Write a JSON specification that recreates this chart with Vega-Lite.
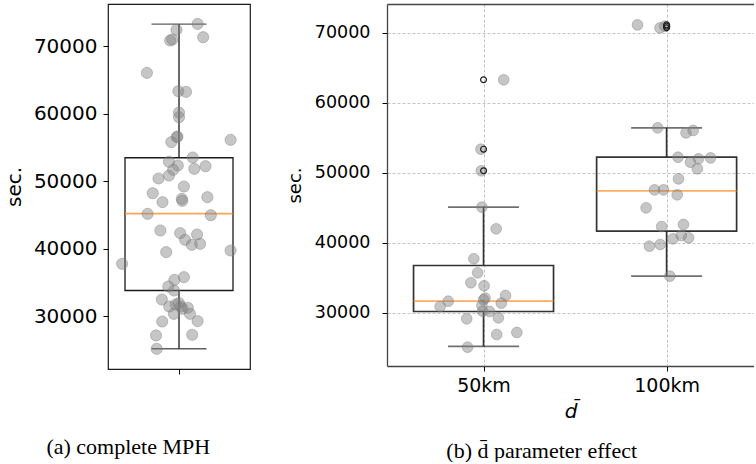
{
  "$schema": "https://vega.github.io/schema/vega-lite/v6.json",
  "background": "white",
  "padding": {"left": 3, "top": 3, "right": 0, "bottom": 0},
  "config": {
    "font": "DejaVu Sans",
    "view": {"stroke": null},
    "concat": {"spacing": 35},
    "axis": {"labelColor": "black", "titleColor": "black", "tickColor": "black", "titleFontWeight": "normal", "grid": false}
  },
  "datasets": {
    "complete": [
      {"x": 1.141, "sec": 73300}, {"x": 0.981, "sec": 72420}, {"x": 0.933, "sec": 70840}, {"x": 0.949, "sec": 70990},
      {"x": 1.183, "sec": 71330}, {"x": 0.757, "sec": 66050}, {"x": 0.995, "sec": 63330}, {"x": 1.053, "sec": 63230},
      {"x": 1.0, "sec": 60170}, {"x": 1.0, "sec": 59480}, {"x": 0.988, "sec": 56620}, {"x": 0.984, "sec": 56520},
      {"x": 0.942, "sec": 55780}, {"x": 1.391, "sec": 56120}, {"x": 1.104, "sec": 53510}, {"x": 0.924, "sec": 52870},
      {"x": 0.991, "sec": 52320}, {"x": 1.201, "sec": 52220}, {"x": 1.116, "sec": 51830}, {"x": 0.956, "sec": 51680},
      {"x": 0.924, "sec": 50840}, {"x": 0.845, "sec": 50400}, {"x": 1.037, "sec": 49210}, {"x": 0.801, "sec": 48220},
      {"x": 1.215, "sec": 47630}, {"x": 1.021, "sec": 47380}, {"x": 1.025, "sec": 47090}, {"x": 0.875, "sec": 46890},
      {"x": 0.762, "sec": 45160}, {"x": 1.241, "sec": 44960}, {"x": 0.859, "sec": 42690}, {"x": 1.009, "sec": 42300},
      {"x": 1.137, "sec": 42100}, {"x": 1.046, "sec": 41310}, {"x": 1.097, "sec": 40570}, {"x": 1.16, "sec": 40720},
      {"x": 0.903, "sec": 39480}, {"x": 1.391, "sec": 39730}, {"x": 0.569, "sec": 37750}, {"x": 1.037, "sec": 35780},
      {"x": 0.965, "sec": 35380}, {"x": 0.919, "sec": 34400}, {"x": 0.963, "sec": 33800}, {"x": 0.87, "sec": 32470},
      {"x": 0.926, "sec": 31430}, {"x": 0.975, "sec": 31730}, {"x": 1.0, "sec": 31930}, {"x": 1.014, "sec": 31430},
      {"x": 0.961, "sec": 30350}, {"x": 1.067, "sec": 31240}, {"x": 1.083, "sec": 30350}, {"x": 1.025, "sec": 31090},
      {"x": 1.141, "sec": 29260}, {"x": 0.873, "sec": 29210}, {"x": 0.826, "sec": 27140}, {"x": 1.1, "sec": 27240},
      {"x": 0.831, "sec": 25160}
    ],
    "completeBox": [
      {"pos": 1, "whislo": 25170, "q1": 33800, "med": 45200, "q3": 53470, "whishi": 73260}
    ],
    "dbar": [
      {"d": "50km", "x": 1.110, "sec": 63290}, {"d": "50km", "x": 0.986, "sec": 53380}, {"d": "50km", "x": 0.988, "sec": 50290},
      {"d": "50km", "x": 0.991, "sec": 45100}, {"d": "50km", "x": 1.069, "sec": 42000}, {"d": "50km", "x": 0.947, "sec": 37720},
      {"d": "50km", "x": 0.968, "sec": 35720}, {"d": "50km", "x": 0.931, "sec": 34290}, {"d": "50km", "x": 1.003, "sec": 33860},
      {"d": "50km", "x": 1.120, "sec": 32480}, {"d": "50km", "x": 1.000, "sec": 31860}, {"d": "50km", "x": 1.008, "sec": 32100},
      {"d": "50km", "x": 0.807, "sec": 31660}, {"d": "50km", "x": 1.097, "sec": 31380}, {"d": "50km", "x": 0.763, "sec": 30900},
      {"d": "50km", "x": 0.991, "sec": 31050}, {"d": "50km", "x": 0.995, "sec": 30230}, {"d": "50km", "x": 1.033, "sec": 30190},
      {"d": "50km", "x": 1.081, "sec": 29290}, {"d": "50km", "x": 0.908, "sec": 29140}, {"d": "50km", "x": 1.072, "sec": 26900},
      {"d": "50km", "x": 1.182, "sec": 27190}, {"d": "50km", "x": 0.913, "sec": 25090},
      {"d": "100km", "x": 1.841, "sec": 71140}, {"d": "100km", "x": 1.964, "sec": 70710}, {"d": "100km", "x": 1.990, "sec": 70950},
      {"d": "100km", "x": 1.951, "sec": 56430}, {"d": "100km", "x": 2.106, "sec": 55710}, {"d": "100km", "x": 2.145, "sec": 56050},
      {"d": "100km", "x": 2.062, "sec": 52230}, {"d": "100km", "x": 2.130, "sec": 51520}, {"d": "100km", "x": 2.174, "sec": 52000},
      {"d": "100km", "x": 2.168, "sec": 50570}, {"d": "100km", "x": 2.240, "sec": 52140}, {"d": "100km", "x": 2.065, "sec": 49140},
      {"d": "100km", "x": 1.934, "sec": 47570}, {"d": "100km", "x": 1.983, "sec": 47570}, {"d": "100km", "x": 2.058, "sec": 46860},
      {"d": "100km", "x": 1.888, "sec": 45000}, {"d": "100km", "x": 1.973, "sec": 42330}, {"d": "100km", "x": 2.092, "sec": 42620},
      {"d": "100km", "x": 2.080, "sec": 41050}, {"d": "100km", "x": 2.035, "sec": 40570}, {"d": "100km", "x": 2.120, "sec": 40710},
      {"d": "100km", "x": 1.906, "sec": 39520}, {"d": "100km", "x": 1.965, "sec": 39760}, {"d": "100km", "x": 2.018, "sec": 35240}
    ],
    "dbarBox": [
      {"d": "50km", "pos": 1, "whislo": 25190, "q1": 30190, "med": 31660, "q3": 36760, "whishi": 45100},
      {"d": "100km", "pos": 2, "whislo": 35240, "q1": 41670, "med": 47430, "q3": 52240, "whishi": 56430}
    ],
    "dbarOut": [
      {"d": "50km", "pos": 1, "sec": 63290}, {"d": "50km", "pos": 1, "sec": 53380}, {"d": "50km", "pos": 1, "sec": 50290},
      {"d": "100km", "pos": 2, "sec": 71140}, {"d": "100km", "pos": 2, "sec": 70950}, {"d": "100km", "pos": 2, "sec": 70710}
    ]
  },
  "hconcat": [
    {
      "width": 142,
      "height": 365,
      "view": {"stroke": "#1a1a1a", "strokeWidth": 1.2},
      "title": {"text": "(a) complete MPH", "orient": "bottom", "anchor": "start", "frame": "bounds", "dx": 42, "offset": 62, "font": "Liberation Serif", "fontSize": 22, "fontWeight": "normal", "color": "black"},
      "layer": [
        {
          "data": {"name": "completeBox"},
          "mark": {"type": "bar", "orient": "vertical", "width": 108, "filled": false, "stroke": "#1a1a1a", "strokeWidth": 1.3},
          "encoding": {
            "x": {"field": "pos", "type": "quantitative", "scale": {"domain": [0.5, 1.5], "nice": false, "zero": false},
                  "axis": {"values": [1], "labels": false, "title": null, "domain": false, "ticks": true, "tickSize": 5, "tickWidth": 1}},
            "y": {"field": "q1", "type": "quantitative", "scale": {"domain": [22170, 76250], "nice": false, "zero": false},
                  "axis": {"values": [30000, 40000, 50000, 60000, 70000], "format": "d", "title": "sec.", "titleFontSize": 20, "titlePadding": 9,
                           "labelFontSize": 20, "labelPadding": 6, "tickSize": 5, "domain": false}},
            "y2": {"field": "q3"}
          }
        },
        {
          "data": {"name": "completeBox"},
          "mark": {"type": "rule", "color": "#1a1a1a", "strokeWidth": 1.3},
          "encoding": {"x": {"field": "pos", "type": "quantitative"}, "y": {"field": "whislo", "type": "quantitative"}, "y2": {"field": "q1"}}
        },
        {
          "data": {"name": "completeBox"},
          "mark": {"type": "rule", "color": "#1a1a1a", "strokeWidth": 1.3},
          "encoding": {"x": {"field": "pos", "type": "quantitative"}, "y": {"field": "q3", "type": "quantitative"}, "y2": {"field": "whishi"}}
        },
        {
          "data": {"name": "completeBox"},
          "mark": {"type": "tick", "orient": "horizontal", "size": 55, "thickness": 1.3, "color": "#1a1a1a"},
          "encoding": {"x": {"field": "pos", "type": "quantitative"}, "y": {"field": "whislo", "type": "quantitative"}}
        },
        {
          "data": {"name": "completeBox"},
          "mark": {"type": "tick", "orient": "horizontal", "size": 55, "thickness": 1.3, "color": "#1a1a1a"},
          "encoding": {"x": {"field": "pos", "type": "quantitative"}, "y": {"field": "whishi", "type": "quantitative"}}
        },
        {
          "data": {"name": "completeBox"},
          "mark": {"type": "tick", "orient": "horizontal", "size": 108, "thickness": 1.7, "color": "#ff7f0e"},
          "encoding": {"x": {"field": "pos", "type": "quantitative"}, "y": {"field": "med", "type": "quantitative"}}
        },
        {
          "data": {"name": "complete"},
          "mark": {"type": "point", "shape": "circle", "filled": true, "size": 125, "fill": "#808080", "stroke": "#808080", "strokeWidth": 1, "fillOpacity": 0.45, "strokeOpacity": 0.45, "opacity": 1},
          "encoding": {"x": {"field": "x", "type": "quantitative"}, "y": {"field": "sec", "type": "quantitative"}}
        }
      ]
    },
    {
      "width": 367,
      "height": 362,
      "title": {"text": "(b) d\u0304 parameter effect", "orient": "bottom", "anchor": "start", "frame": "bounds", "dx": 160, "offset": 20, "font": "Liberation Serif", "fontSize": 22, "fontWeight": "normal", "color": "black"},
      "resolve": {"axis": {"x": "independent"}},
      "layer": [
        {
          "data": {"name": "dbarBox"},
          "mark": {"type": "bar", "orient": "vertical", "width": 140, "filled": false, "stroke": "#333333", "strokeWidth": 1.7},
          "encoding": {
            "x": {"field": "pos", "type": "quantitative", "scale": {"domain": [0.5, 2.45], "nice": false, "zero": false},
                  "axis": {"orient": "bottom", "values": [1, 2], "labelExpr": "datum.value == 1 ? '50km' : '100km'", "title": "d\u0304",
                           "titleFontStyle": "italic", "titleFontSize": 20, "titlePadding": 6, "labelFontSize": 19, "labelPadding": 5,
                           "tickSize": 5, "domain": true, "domainColor": "#444", "domainWidth": 1.3,
                           "grid": true, "gridColor": "#bdbdbd", "gridDash": [3, 2], "gridWidth": 0.9}},
            "y": {"field": "q1", "type": "quantitative", "scale": {"domain": [22400, 74120], "nice": false, "zero": false},
                  "axis": {"values": [30000, 40000, 50000, 60000, 70000], "format": "d", "title": "sec.", "titleFontSize": 18, "titlePadding": 10,
                           "labelFontSize": 17.5, "labelPadding": 12, "tickSize": 5, "domain": true, "domainColor": "#444", "domainWidth": 1.3,
                           "grid": true, "gridColor": "#bdbdbd", "gridDash": [3, 2], "gridWidth": 0.9}},
            "y2": {"field": "q3"}
          }
        },
        {
          "data": {"name": "dbarBox"},
          "mark": {"type": "rule", "color": "#333333", "strokeWidth": 1.7},
          "encoding": {"x": {"field": "pos", "type": "quantitative", "axis": null}, "y": {"field": "whislo", "type": "quantitative"}, "y2": {"field": "q1"}}
        },
        {
          "data": {"name": "dbarBox"},
          "mark": {"type": "rule", "color": "#333333", "strokeWidth": 1.7},
          "encoding": {"x": {"field": "pos", "type": "quantitative", "axis": null}, "y": {"field": "q3", "type": "quantitative"}, "y2": {"field": "whishi"}}
        },
        {
          "data": {"name": "dbarBox"},
          "mark": {"type": "tick", "orient": "horizontal", "size": 71, "thickness": 1.7, "color": "#333333"},
          "encoding": {"x": {"field": "pos", "type": "quantitative", "axis": null}, "y": {"field": "whislo", "type": "quantitative"}}
        },
        {
          "data": {"name": "dbarBox"},
          "mark": {"type": "tick", "orient": "horizontal", "size": 71, "thickness": 1.7, "color": "#333333"},
          "encoding": {"x": {"field": "pos", "type": "quantitative", "axis": null}, "y": {"field": "whishi", "type": "quantitative"}}
        },
        {
          "data": {"name": "dbarBox"},
          "mark": {"type": "tick", "orient": "horizontal", "size": 140, "thickness": 1.8, "color": "#ff8a1f"},
          "encoding": {"x": {"field": "pos", "type": "quantitative", "axis": null}, "y": {"field": "med", "type": "quantitative"}}
        },
        {
          "data": {"name": "dbar"},
          "mark": {"type": "point", "shape": "circle", "filled": true, "size": 115, "fill": "#808080", "stroke": "#808080", "strokeWidth": 1, "fillOpacity": 0.45, "strokeOpacity": 0.45, "opacity": 1},
          "encoding": {"x": {"field": "x", "type": "quantitative", "axis": null}, "y": {"field": "sec", "type": "quantitative"}}
        },
        {
          "data": {"name": "dbarOut"},
          "mark": {"type": "point", "shape": "circle", "filled": false, "size": 34, "stroke": "#1a1a1a", "strokeWidth": 1.2, "opacity": 1},
          "encoding": {"x": {"field": "pos", "type": "quantitative",
                             "axis": {"orient": "top", "labels": false, "ticks": false, "grid": false, "title": null, "domain": true, "domainColor": "#444", "domainWidth": 1.3}},
                       "y": {"field": "sec", "type": "quantitative"}}
        }
      ]
    }
  ]
}
